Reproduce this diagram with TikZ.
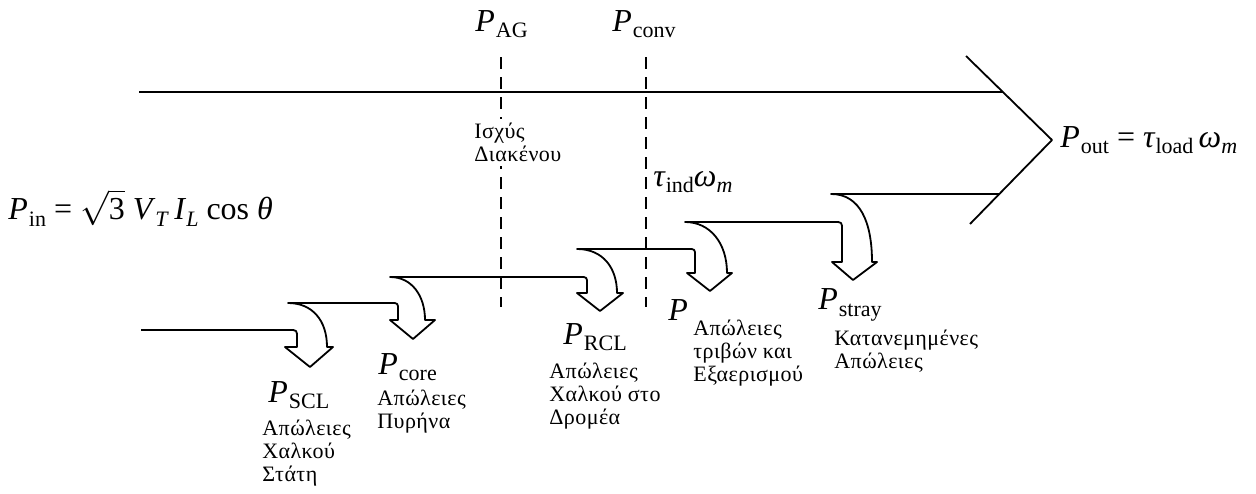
\documentclass[tikz,border=0pt]{standalone}
\usepackage{fontspec}
\setmainfont{Liberation Serif}
\newcommand\PP[1]{\textit{P}\kern0.03em\raisebox{-0.45ex}{\fontsize{11}{11}\selectfont #1}}
\newcommand\sbx[1]{\raisebox{-0.45ex}{\fontsize{11}{11}\selectfont #1}}
\begin{document}
\begin{tikzpicture}[x=0.5pt,y=-0.5pt,
  flow/.style={line width=0.9pt,line join=round},
  guide/.style={line width=0.6pt,dash pattern=on 6pt off 4pt},
  big/.style={font=\fontsize{16}{17}\selectfont,inner sep=0pt,anchor=west},
  note/.style={font=\fontsize{11}{11.5}\selectfont\addfontfeature{LetterSpace=2},inner sep=0pt,anchor=north west,align=left}]
\useasboundingbox (0,0) rectangle (1256,493);

% main flow arrow
\coordinate (topL) at (139,92);
\coordinate (topR) at (1003,92);
\coordinate (tipU) at (966,56);
\coordinate (apex) at (1052,140);
\coordinate (tipD) at (970,224);
\coordinate (lowR) at (999,194);
\draw[flow] (topL) -- (topR);
\draw[flow] (tipU) -- (apex) -- (tipD);

% lower boundary with loss arrows
\draw[flow] (141,330) -- (289,330) .. controls (297,330) .. (297,338) -- (297,347) -- (285,347) -- (310,367) -- (333,347) -- (327,347) .. controls (327,320) and (312,303) .. (288,303)
 -- (391,303) .. controls (398,303) .. (398,310) -- (398,320) -- (390,320) -- (413,339) -- (435,320) -- (425,320) .. controls (425,296) and (412,277) .. (390,277)
 -- (580,277) .. controls (587,277) .. (587,284) -- (587,293) -- (577,293) -- (600,311) -- (623,293) -- (617,293) .. controls (617,268) and (603,249) .. (577,249)
 -- (688,249) .. controls (695,249) .. (695,256) -- (695,273) -- (687,273) -- (710,291) -- (732,273) -- (727,273) .. controls (727,243) and (710,222) .. (685,222)
 -- (834,222) .. controls (842,222) .. (842,230) -- (842,262) -- (832,262) -- (853,280) -- (877,262) -- (872,262) .. controls (872,222) and (860,194) .. (831,194)
 -- (lowR);

% dashed guides
\coordinate (agT) at (501,57);
\coordinate (agB) at (501,307);
\coordinate (cvT) at (646,57);
\coordinate (cvB) at (646,307);
\draw[guide] (agT) -- (agB);
\draw[guide] (cvT) -- (cvB);

% labels
\node[big] (pag) at (475,24) {\PP{AG}};
\node[big] (pconv) at (612,24) {\PP{conv}};
\node[note,fill=white,inner sep=2pt] (gap) at (470,119) {Ισχύς\\Διακένου};
\node[big] (pin) at (8,208) {\PP{in} = $\sqrt{\mbox{3}}$ \textit{V}\sbx{\textit{T}}\,\textit{I}\sbx{\textit{L}} cos \textit{θ}};
\node[big] (tind) at (653,182) {\textit{τ}\sbx{ind}\textit{ω}\sbx{\textit{m}}};
\node[big] (pout) at (1060,140) {\PP{out} = \textit{τ}\sbx{load}\,\textit{ω}\sbx{\textit{m}}};

\node[big] (pscl) at (268,395) {\PP{SCL}};
\node[note] (tscl) at (262,420) {Απώλειες\\Χαλκού\\Στάτη};
\node[big] (pcore) at (378,367) {\PP{core}};
\node[note] (tcore) at (377,390) {Απώλειες\\Πυρήνα};
\node[big] (prcl) at (563,337) {\PP{RCL}};
\node[note] (trcl) at (549,363) {Απώλειες\\Χαλκού στο\\Δρομέα};
\node[big] (pfw) at (668,310) {\textit{P}};
\node[note] (tfw) at (693,320) {Απώλειες\\τριβών και\\Εξαερισμού};
\node[big] (pstray) at (818,305) {\PP{stray}};
\node[note] (tstray) at (834,330) {Κατανεμημένες\\Απώλειες};
\end{tikzpicture}
\end{document}
